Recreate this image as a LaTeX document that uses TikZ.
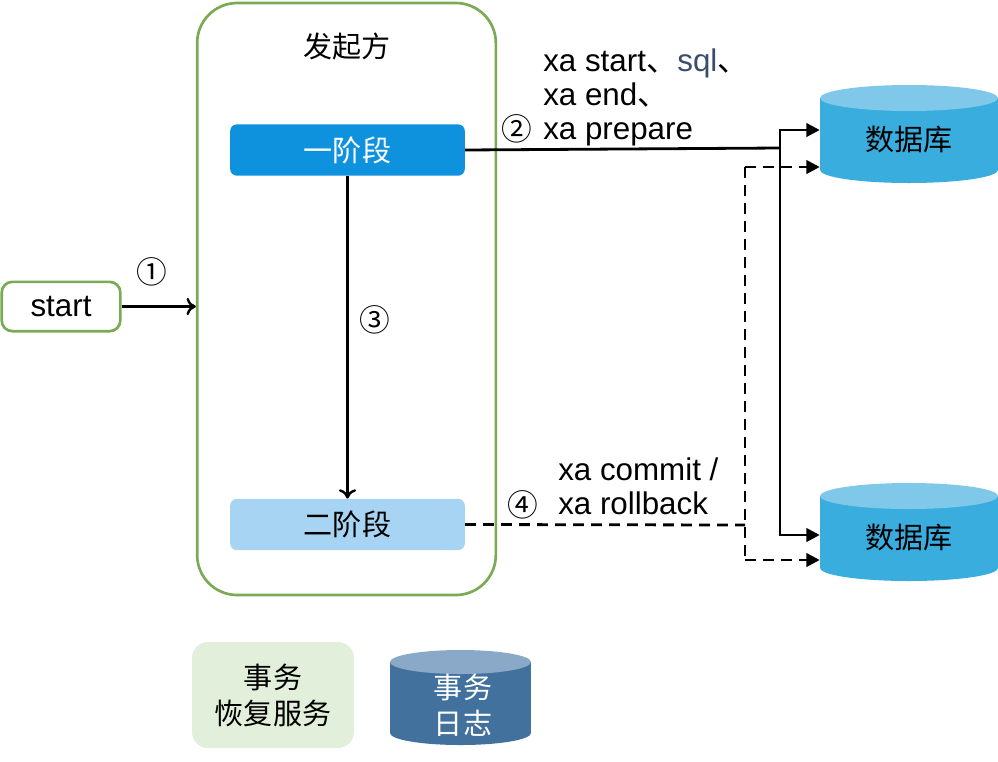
\documentclass[tikz,border=0pt]{standalone}
\usepackage{fontspec}
\setmainfont{Liberation Sans}
\newfontfamily\cjk{Noto Sans CJK SC}
\usetikzlibrary{arrows.meta,calc}
\definecolor{grn}{HTML}{7BAA55}
\definecolor{blueA}{HTML}{0F92DE}
\definecolor{blueB}{HTML}{A8D4F3}
\definecolor{dbbody}{HTML}{3AADDF}
\definecolor{dbtop}{HTML}{80C8EA}
\definecolor{logbody}{HTML}{41719C}
\definecolor{logtop}{HTML}{8AA9C8}
\definecolor{recov}{HTML}{E2EFDA}
\definecolor{sqlc}{HTML}{3A4C6E}
\tikzset{
  cn/.style={font=\cjk\fontsize{21.8pt}{27pt}\selectfont},
  circ/.style={font=\cjk\fontsize{23pt}{23pt}\selectfont},
  lt/.style={font=\fontsize{23.5pt}{25.5pt}\selectfont},
  stagebox/.style={rounded corners=5pt,minimum width=176pt,minimum height=38.5pt,inner sep=0pt,cn},
  conn/.style={line width=2.1pt},
  openarrow/.style={conn,-{To[length=7pt,width=13pt,line width=1.8pt]}},
  fillarrow/.style={conn,-{Triangle[length=10pt,width=10pt]}},
  dasharrow/.style={conn,dash pattern=on 8pt off 5.5pt,-{Triangle[length=10pt,width=10pt]}},
  dashline/.style={conn,dash pattern=on 8pt off 5.5pt},
}
\begin{document}
\begin{tikzpicture}[x=0.75pt,y=-0.75pt]
\useasboundingbox (0,0) rectangle (998,761);
% container
\node[draw=grn,line width=2pt,rounded corners=30pt,minimum width=224pt,minimum height=444pt,inner sep=0pt] (init) at (346.5,299) {};
\node[cn] (title) at (347,46) {发起方};
% stages
\node[stagebox,fill=blueA,text=white] (p1) at (347.5,150) {一阶段};
\node[stagebox,fill=blueB,text=black] (p2) at (347.5,524.5) {二阶段};
% start
\node[draw=grn,line width=2pt,fill=white,rounded corners=8pt,minimum width=89pt,minimum height=37pt,inner sep=0pt,lt] (start) at (61,306.5) {start};
\draw[openarrow] (start.east) -- (start.east -| init.west);
\node[circ] (n1) at (152,272) {①};
% step 3
\draw[openarrow] (p1.south) -- (p2.north);
\node[circ] (n3) at (375,320) {③};
% databases
\foreach \nm/\cy in {db1/134, db2/532}{
  \fill[dbbody] (820,\cy-36) rectangle (998,\cy+36);
  \fill[dbbody] (909,\cy+36) ellipse [x radius=89, y radius=13];
  \fill[dbtop] (909,\cy-36) ellipse [x radius=89, y radius=13];
  \node[cn,minimum width=133.5pt,minimum height=54pt,inner sep=0pt] (\nm) at (909,\cy+6) {数据库};
}
% step 2
\coordinate (j1) at (780,148);
\coordinate (bt) at (780,130);
\coordinate (bb) at (780,535);
\draw[conn] (p1.east) -- (j1);
\draw[conn] (bt) -- (bb);
\draw[fillarrow] ([xshift=-1pt]bt) -- (bt -| db1.west);
\draw[fillarrow] ([xshift=-1pt]bb) -- (bb -| db2.west);
\node[circ] (n2) at (517,129) {②};
\node[lt,align=left,anchor=base west,inner sep=0pt] (t2) at (543,139) {xa start{\cjk 、}\textcolor{sqlc}{sql}{\cjk 、}\\xa end{\cjk 、}\\xa prepare};
% step 4
\coordinate (k1) at (745,525);
\coordinate (dt) at (745,167);
\coordinate (db) at (745,560);
\draw[dashline] (p2.east) -- (k1);
\draw[dashline] (dt) -- (db);
\draw[dasharrow] (dt) -- (dt -| db1.west);
\draw[dasharrow] (db) -- (db -| db2.west);
\node[circ] (n4) at (523,505) {④};
\node[lt,align=left,anchor=base west,inner sep=0pt] (t4) at (558,514) {xa commit /\\xa rollback};
% bottom
\node[fill=recov,rounded corners=12pt,minimum width=121.5pt,minimum height=79.5pt,inner sep=0pt,cn,align=center] (rec) at (273,695) {事务\\恢复服务};
\fill[logbody] (390,662) rectangle (531,733);
\fill[logbody] (460.5,733) ellipse [x radius=70.5, y radius=12];
\fill[logtop] (460.5,662) ellipse [x radius=70.5, y radius=12];
\node[cn,text=white,align=center,inner sep=0pt] (log) at (463,705) {事务\\日志};
\end{tikzpicture}
\end{document}
